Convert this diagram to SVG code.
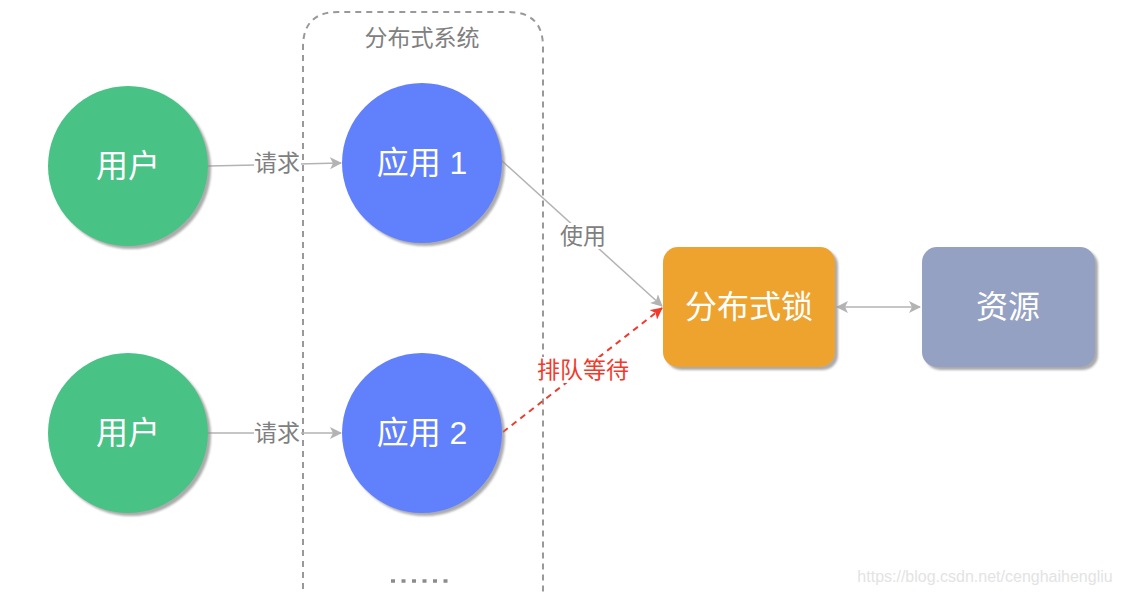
<svg xmlns="http://www.w3.org/2000/svg" width="1121" height="594" viewBox="0 0 1121 594">
<style>
.node text{font-family:"Liberation Sans","Noto Sans CJK SC",sans-serif;fill:#fff;font-size:32px;text-anchor:middle;dominant-baseline:central}
.lbl{font-family:"Liberation Sans","Noto Sans CJK SC",sans-serif;font-size:23px;text-anchor:middle;dominant-baseline:central}
.edge{stroke:#b3b3b3;stroke-width:1.5;fill:none}
</style>
<defs>
<filter id="sh" x="-20%" y="-20%" width="150%" height="150%">
<feDropShadow dx="3" dy="3" stdDeviation="1" flood-color="#888" flood-opacity="0.7"/>
</filter>
<marker id="ag" viewBox="0 0 12 12" refX="11" refY="6" markerWidth="12" markerHeight="12" markerUnits="userSpaceOnUse" orient="auto-start-reverse">
<path d="M0,0 L12,6 L0,12 L3,6 Z" fill="#b3b3b3"/>
</marker>
<marker id="ar" viewBox="0 0 12 12" refX="11" refY="6" markerWidth="12" markerHeight="12" markerUnits="userSpaceOnUse" orient="auto">
<path d="M0,0 L12,6 L0,12 L3,6 Z" fill="#f03a2c"/>
</marker>
</defs>
<rect width="1121" height="594" fill="#fff"/>
<g id="container">
<path d="M303,600 L303,47 Q303,12 338,12 L508,12 Q543,12 543,47 L543,600" fill="none" stroke="#999" stroke-width="2" stroke-dasharray="6,5"/>
<text class="lbl" x="422" y="38" fill="#808080">分布式系统</text>
<line x1="391" y1="581" x2="454" y2="581" stroke="#8c8c8c" stroke-width="3.5" stroke-dasharray="4,6.5"/>
</g>
<g id="connectors">
<line class="edge" x1="208" y1="166" x2="341" y2="163" marker-end="url(#ag)"/>
<rect x="254" y="151" width="47" height="26" fill="#fff"/>
<text class="lbl" x="277" y="163" fill="#808080">请求</text>
<line class="edge" x1="208" y1="433" x2="341" y2="433" marker-end="url(#ag)"/>
<rect x="254" y="420" width="47" height="26" fill="#fff"/>
<text class="lbl" x="277" y="433" fill="#808080">请求</text>
<line class="edge" x1="501" y1="160" x2="662" y2="306" marker-end="url(#ag)"/>
<rect x="557" y="223" width="52" height="26" fill="#fff"/>
<text class="lbl" x="583" y="236" fill="#808080">使用</text>
<line x1="503" y1="432" x2="662" y2="308" stroke="#f03a2c" stroke-width="2" stroke-dasharray="6,5" marker-end="url(#ar)"/>
<rect x="535" y="357" width="96" height="26" fill="#fff"/>
<text class="lbl" x="583" y="370" fill="#f03a2c">排队等待</text>
<line class="edge" x1="837" y1="307" x2="920" y2="307" marker-start="url(#ag)" marker-end="url(#ag)"/>
</g>
<g id="user1" class="node"><circle cx="128" cy="166" r="80" fill="#48c285" filter="url(#sh)"/><text x="128" y="166">用户</text></g>
<g id="user2" class="node"><circle cx="128" cy="433" r="80" fill="#48c285" filter="url(#sh)"/><text x="128" y="433">用户</text></g>
<g id="app1" class="node"><circle cx="422" cy="163" r="80" fill="#6180fc" filter="url(#sh)"/><text x="422" y="163">应用 1</text></g>
<g id="app2" class="node"><circle cx="422" cy="433" r="80" fill="#6180fc" filter="url(#sh)"/><text x="422" y="433">应用 2</text></g>
<g id="lock" class="node"><rect x="663" y="247" width="172" height="120" rx="15" fill="#eda32f" filter="url(#sh)"/><text x="749" y="307">分布式锁</text></g>
<g id="resource" class="node"><rect x="922" y="247" width="173" height="120" rx="15" fill="#94a1c2" filter="url(#sh)"/><text x="1008" y="307">资源</text></g>
<text x="985" y="582" font-family="'Liberation Sans',sans-serif" font-size="16" fill="#e3e3e3" text-anchor="middle">https://blog.csdn.net/cenghaihengliu</text>
</svg>
